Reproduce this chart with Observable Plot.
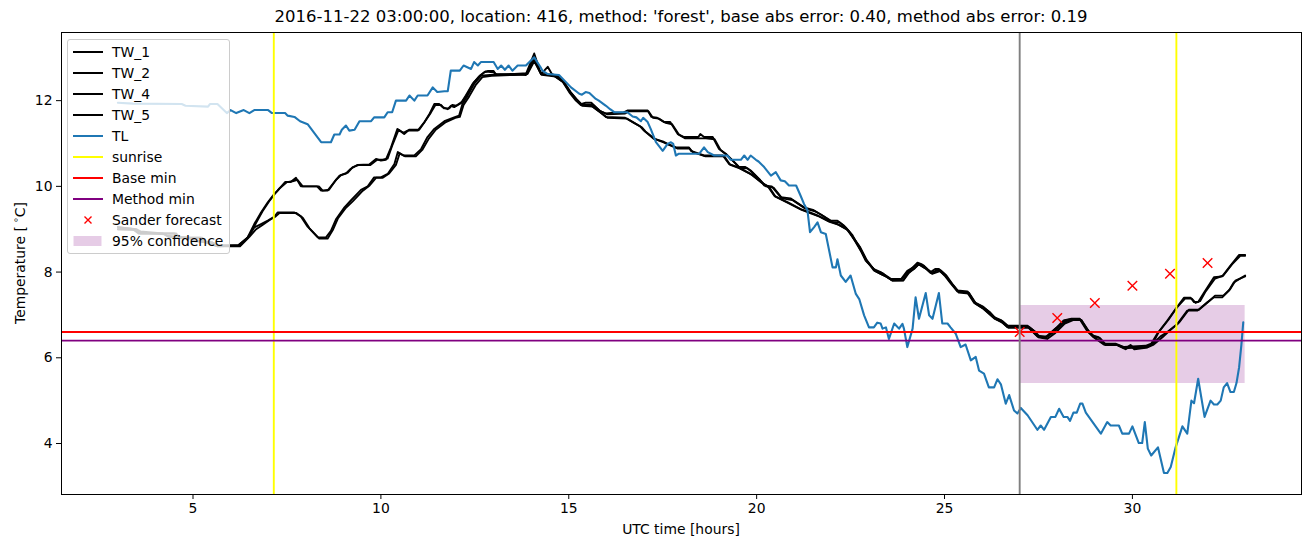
<!DOCTYPE html>
<html><head><meta charset="utf-8">
<script src="https://cdn.jsdelivr.net/npm/d3@7"></script>
<script src="https://cdn.jsdelivr.net/npm/@observablehq/plot@0.6"></script>
<style>
body{margin:0;background:#fff;font-family:"DejaVu Sans",sans-serif;color:#000;}
#wrap{position:relative;width:1310px;height:547px;overflow:hidden;}
#title{position:absolute;left:61px;width:1240px;top:7px;text-align:center;font-size:16.5px;line-height:20px;white-space:nowrap;}
#xlabel{position:absolute;left:61px;width:1240px;top:520px;text-align:center;font-size:13.9px;line-height:18px;}
#ylabel{position:absolute;left:18px;top:263px;transform:translate(-50%,-50%) rotate(-90deg);font-size:13.9px;white-space:nowrap;line-height:18px;}
#ylabel sup{font-size:9.5px;vertical-align:6px;}
#legend{position:absolute;left:67px;top:39px;width:161px;height:213px;border:1px solid #cccccc;border-radius:3px;background:rgba(255,255,255,0.8);}
.row{position:absolute;left:0;height:20px;line-height:20px;font-size:13.9px;white-space:nowrap;}
.row svg{position:absolute;left:4px;top:0;}
.row span{position:absolute;left:44px;top:0;}
</style></head><body>
<div id="wrap">
<div id="chart"></div>
<div id="title">2016-11-22 03:00:00, location: 416, method: 'forest', base abs error: 0.40, method abs error: 0.19</div>
<div id="xlabel">UTC time [hours]</div>
<div id="ylabel">Temperature [<sup>&nbsp;∘</sup>C]</div>
<div id="legend"></div>
</div>
<script>
// ---- data (hour, °C) ----
const TW_1 = [[3.0,9.0],[3.4,9.0],[3.55,8.9],[4.5,8.9],[4.6,8.8],[5.2,8.8],[5.3,8.7],[5.6,8.62],[6.2,8.62],[6.45,8.8],[6.63,9.12],[6.81,9.39],[6.99,9.63],[7.16,9.82],[7.25,9.9],[7.45,10.1],[7.6,10.1],[7.74,10.2],[7.87,10.0],[8.3,10.0],[8.41,9.9],[8.58,9.9],[8.76,10.1],[8.9,10.25],[9.07,10.3],[9.2,10.41],[9.38,10.5],[9.69,10.51],[9.87,10.64],[10.0,10.6],[10.13,10.62],[10.27,10.91],[10.44,11.34],[10.6,11.25],[10.71,11.3],[10.98,11.3],[11.16,11.5],[11.3,11.7],[11.42,11.92],[11.55,11.92],[11.64,11.85],[11.78,11.8],[11.86,11.88],[11.95,11.85],[12.13,11.94],[12.26,12.12],[12.44,12.39],[12.6,12.55],[12.75,12.66],[12.84,12.69],[13.0,12.69],[13.05,12.62],[13.5,12.6],[13.86,12.62],[14.08,13.1],[14.2,12.78],[14.26,12.62],[14.44,12.79],[14.55,12.62],[14.7,12.58],[14.83,12.47],[15.01,12.23],[15.19,12.04],[15.32,11.92],[15.45,11.95],[15.6,11.95],[15.81,11.77],[15.99,11.7],[16.2,11.72],[16.45,11.72],[16.56,11.77],[17.1,11.77],[17.2,11.62],[17.35,11.6],[17.54,11.5],[17.7,11.5],[17.9,11.22],[18.07,11.15],[18.45,11.15],[18.5,11.22],[18.6,11.15],[18.83,11.15],[19.0,10.87],[19.18,10.76],[19.36,10.6],[19.53,10.45],[19.7,10.45],[19.84,10.37],[20.07,10.17],[20.2,10.02],[20.4,10.0],[20.64,9.75],[20.9,9.72],[21.26,9.51],[21.5,9.45],[21.7,9.35],[21.97,9.2],[22.15,9.2],[22.33,9.08],[22.5,8.9],[22.77,8.5],[22.9,8.27],[23.12,8.07],[23.3,8.0],[23.44,7.92],[23.58,7.84],[23.85,7.84],[24.01,8.03],[24.15,8.1],[24.28,8.22],[24.4,8.18],[24.5,8.1],[24.63,8.0],[24.75,8.07],[24.85,8.07],[25.0,7.95],[25.16,7.76],[25.34,7.57],[25.61,7.55],[25.79,7.3],[26.01,7.2],[26.15,7.1],[26.32,6.95],[26.5,6.88],[26.67,6.75],[27.21,6.75],[27.35,6.65],[27.47,6.52],[27.69,6.48],[27.91,6.65],[28.0,6.72],[28.17,6.87],[28.38,6.91],[28.6,6.91],[28.8,6.65],[28.94,6.52],[29.1,6.48],[29.24,6.33],[29.55,6.33],[29.78,6.25],[30.35,6.28],[30.5,6.33],[30.66,6.56],[30.93,6.87],[31.15,7.14],[31.37,7.4],[31.55,7.4],[31.64,7.3],[31.75,7.3],[31.9,7.51],[32.17,7.88],[32.39,7.9],[32.61,8.15],[32.84,8.4],[33.0,8.4]];
const TW_2 = [[3.0,9.05],[3.45,9.0],[3.6,8.9],[4.55,8.9],[4.65,8.8],[5.25,8.8],[5.35,8.7],[5.65,8.6],[6.25,8.62],[6.5,8.85],[6.68,9.15],[6.85,9.42],[7.05,9.68],[7.2,9.85],[7.3,9.95],[7.5,10.1],[7.65,10.12],[7.78,10.15],[7.92,10.0],[8.35,10.0],[8.45,9.9],[8.62,9.92],[8.8,10.15],[8.95,10.27],[9.12,10.32],[9.25,10.45],[9.42,10.5],[9.72,10.5],[9.9,10.62],[10.05,10.62],[10.18,10.65],[10.3,10.95],[10.47,11.32],[10.62,11.22],[10.75,11.32],[11.02,11.32],[11.2,11.55],[11.33,11.72],[11.45,11.9],[11.6,11.9],[11.68,11.82],[11.82,11.82],[11.9,11.9],[12.0,11.88],[12.17,11.98],[12.3,12.15],[12.47,12.42],[12.63,12.58],[12.78,12.68],[13.0,12.66],[13.1,12.6],[13.55,12.62],[13.9,12.64],[14.08,13.05],[14.22,12.7],[14.3,12.62],[14.6,12.6],[14.75,12.55],[14.88,12.42],[15.05,12.2],[15.22,12.02],[15.36,11.9],[15.65,11.9],[15.85,11.75],[16.03,11.68],[16.5,11.7],[16.6,11.75],[17.12,11.75],[17.24,11.6],[17.4,11.58],[17.58,11.48],[17.75,11.45],[17.94,11.2],[18.1,11.12],[18.5,11.12],[18.65,11.12],[18.88,11.1],[19.04,10.85],[19.22,10.72],[19.4,10.57],[19.57,10.42],[19.75,10.42],[19.88,10.33],[20.1,10.14],[20.25,10.0],[20.45,9.97],[20.68,9.72],[20.95,9.68],[21.3,9.48],[21.55,9.42],[21.75,9.32],[22.0,9.17],[22.2,9.16],[22.37,9.04],[22.55,8.86],[22.8,8.46],[22.94,8.24],[23.15,8.04],[23.35,7.97],[23.48,7.88],[23.62,7.8],[23.9,7.81],[24.05,8.0],[24.2,8.08],[24.32,8.19],[24.45,8.15],[24.55,8.06],[24.68,7.97],[24.8,8.05],[24.9,8.04],[25.05,7.92],[25.2,7.73],[25.38,7.54],[25.65,7.52],[25.83,7.27],[26.05,7.17],[26.2,7.07],[26.36,6.92],[26.55,6.85],[26.72,6.72],[27.25,6.72],[27.4,6.62],[27.52,6.5],[27.73,6.5],[27.95,6.68],[28.05,6.75],[28.22,6.88],[28.42,6.9],[28.64,6.88],[28.84,6.62],[28.98,6.5],[29.14,6.46],[29.28,6.32],[29.6,6.3],[29.82,6.22],[29.95,6.3],[30.05,6.22],[30.4,6.25],[30.55,6.35],[30.7,6.6],[30.97,6.9],[31.18,7.17],[31.4,7.38],[31.58,7.38],[31.68,7.28],[31.8,7.32],[31.95,7.55],[32.2,7.85],[32.42,7.92],[32.65,8.18],[32.87,8.38],[33.0,8.38]];
const TW_4 = [[3.0,9.05],[3.5,9.0],[3.6,8.95],[4.2,8.9],[4.3,8.85],[4.9,8.8],[5.0,8.75],[5.5,8.7],[5.6,8.62],[6.2,8.62],[6.45,8.8],[6.63,9.04],[6.81,9.12],[6.99,9.2],[7.16,9.29],[7.25,9.39],[7.7,9.39],[7.87,9.3],[8.05,9.06],[8.32,8.81],[8.54,8.81],[8.67,8.96],[8.81,9.24],[9.03,9.51],[9.2,9.67],[9.47,9.92],[9.65,10.0],[9.82,10.21],[10.0,10.21],[10.18,10.29],[10.36,10.52],[10.45,10.8],[10.6,10.72],[10.89,10.72],[11.07,10.87],[11.24,11.15],[11.42,11.34],[11.69,11.52],[11.95,11.61],[12.08,11.65],[12.17,11.92],[12.31,12.12],[12.48,12.39],[12.66,12.58],[12.9,12.6],[13.46,12.62],[13.86,12.6],[14.08,12.95],[14.26,12.62],[14.44,12.6],[14.6,12.58],[14.83,12.45],[15.01,12.2],[15.19,12.0],[15.32,11.9],[15.6,11.88],[15.81,11.75],[15.99,11.62],[16.5,11.6],[16.7,11.5],[16.9,11.4],[17.0,11.3],[17.26,11.11],[17.5,11.05],[17.63,10.99],[17.85,10.91],[18.2,10.91],[18.25,10.83],[18.6,10.72],[19.1,10.72],[19.27,10.52],[19.5,10.45],[19.84,10.29],[20.11,10.1],[20.3,10.0],[20.47,9.78],[20.82,9.63],[21.17,9.47],[21.4,9.4],[21.62,9.32],[21.9,9.2],[22.15,9.12],[22.4,9.0],[22.73,8.6],[22.9,8.3],[23.12,8.04],[23.3,7.96],[23.44,7.9],[23.58,7.82],[23.85,7.82],[24.01,8.0],[24.28,8.2],[24.5,8.08],[24.63,7.98],[24.85,8.05],[25.0,7.92],[25.16,7.74],[25.34,7.55],[25.61,7.52],[25.79,7.28],[26.01,7.16],[26.32,6.92],[26.5,6.85],[26.67,6.72],[27.21,6.72],[27.47,6.5],[27.69,6.46],[27.91,6.6],[28.17,6.82],[28.38,6.9],[28.6,6.9],[28.8,6.62],[28.94,6.5],[29.24,6.31],[29.55,6.31],[29.78,6.22],[30.35,6.25],[30.5,6.3],[30.75,6.5],[30.93,6.6],[31.2,6.79],[31.46,7.1],[31.73,7.1],[32.0,7.3],[32.17,7.41],[32.39,7.41],[32.57,7.57],[32.7,7.76],[33.0,7.92]];
const TW_5 = [[3.0,9.0],[3.45,8.98],[3.65,8.92],[4.25,8.88],[4.35,8.82],[4.95,8.78],[5.05,8.72],[5.55,8.68],[5.65,8.6],[6.25,8.6],[6.5,8.82],[6.68,9.0],[6.85,9.1],[7.05,9.22],[7.2,9.3],[7.3,9.38],[7.75,9.38],[7.92,9.27],[8.1,9.02],[8.36,8.78],[8.58,8.78],[8.72,8.98],[8.86,9.26],[9.07,9.5],[9.25,9.65],[9.52,9.9],[9.7,10.02],[9.87,10.2],[10.05,10.2],[10.22,10.3],[10.4,10.5],[10.5,10.77],[10.65,10.7],[10.93,10.7],[11.1,10.85],[11.28,11.12],[11.46,11.32],[11.73,11.5],[11.98,11.6],[12.1,11.62],[12.2,11.9],[12.35,12.1],[12.52,12.36],[12.7,12.55],[12.95,12.58],[13.5,12.6],[13.9,12.62],[14.08,12.92],[14.28,12.6],[14.5,12.58],[14.65,12.56],[14.87,12.42],[15.05,12.18],[15.22,12.02],[15.36,11.88],[15.64,11.86],[15.85,11.72],[16.03,11.6],[16.55,11.58],[16.74,11.48],[16.94,11.38],[17.04,11.28],[17.3,11.1],[17.54,11.02],[17.67,10.97],[17.9,10.88],[18.22,10.88],[18.3,10.8],[18.64,10.7],[19.14,10.7],[19.3,10.5],[19.55,10.42],[19.88,10.27],[20.15,10.08],[20.34,9.97],[20.5,9.76],[20.86,9.6],[21.2,9.45],[21.44,9.37],[21.66,9.3],[21.94,9.17],[22.19,9.1],[22.44,8.97],[22.76,8.57],[22.93,8.28],[23.16,8.02],[23.34,7.94],[23.48,7.88],[23.62,7.8],[23.9,7.8],[24.05,7.98],[24.32,8.18],[24.54,8.06],[24.67,7.96],[24.88,8.02],[25.04,7.9],[25.2,7.72],[25.38,7.52],[25.65,7.5],[25.83,7.26],[26.05,7.14],[26.36,6.9],[26.54,6.82],[26.7,6.7],[27.25,6.7],[27.5,6.48],[27.73,6.44],[27.95,6.58],[28.2,6.8],[28.42,6.88],[28.64,6.88],[28.84,6.6],[28.98,6.48],[29.28,6.3],[29.6,6.3],[29.82,6.2],[29.95,6.28],[30.05,6.2],[30.4,6.24],[30.55,6.3],[30.8,6.48],[30.97,6.62],[31.24,6.82],[31.5,7.12],[31.77,7.12],[32.04,7.32],[32.2,7.45],[32.42,7.45],[32.6,7.6],[32.74,7.8],[33.0,7.9]];
const TL = [[3.0,11.95],[3.4,11.93],[4.7,11.92],[4.8,11.88],[5.4,11.86],[5.45,11.92],[5.65,11.92],[5.9,11.71],[6.0,11.78],[6.15,11.71],[6.35,11.78],[6.5,11.71],[6.63,11.78],[7.0,11.78],[7.1,11.71],[7.45,11.71],[7.52,11.65],[7.7,11.62],[7.85,11.52],[8.05,11.45],[8.41,11.03],[8.67,11.03],[8.76,11.21],[8.9,11.21],[8.96,11.32],[9.07,11.42],[9.16,11.3],[9.3,11.32],[9.43,11.52],[9.74,11.52],[9.82,11.61],[10.09,11.61],[10.18,11.73],[10.3,11.73],[10.4,12.0],[10.67,12.0],[10.76,12.12],[10.89,12.0],[10.98,12.12],[11.24,12.12],[11.38,12.31],[11.5,12.2],[11.69,12.22],[11.78,12.22],[11.86,12.7],[12.1,12.7],[12.2,12.82],[12.4,12.74],[12.48,12.9],[12.58,12.82],[12.66,12.9],[13.0,12.9],[13.11,12.74],[13.2,12.82],[13.3,12.72],[13.4,12.82],[13.5,12.7],[13.64,12.82],[13.86,12.82],[14.08,13.01],[14.25,12.78],[14.3,12.7],[14.44,12.62],[14.74,12.6],[15.06,12.31],[15.28,12.16],[15.35,12.14],[15.45,12.2],[15.55,12.18],[15.72,12.04],[15.8,12.0],[15.99,11.88],[16.1,11.8],[16.21,11.73],[16.56,11.73],[16.7,11.63],[16.8,11.61],[16.92,11.52],[16.98,11.6],[17.1,11.5],[17.18,11.34],[17.32,11.03],[17.5,10.83],[17.63,10.99],[17.72,11.03],[17.78,10.99],[17.85,10.72],[17.92,10.76],[18.47,10.76],[18.6,10.91],[18.7,10.8],[18.87,10.72],[19.22,10.72],[19.31,10.62],[19.58,10.62],[19.67,10.72],[19.76,10.62],[19.84,10.72],[19.98,10.62],[20.05,10.58],[20.2,10.45],[20.38,10.25],[20.51,10.33],[20.64,10.14],[20.75,10.12],[20.86,10.02],[21.05,10.02],[21.17,9.78],[21.26,9.59],[21.35,9.45],[21.42,8.93],[21.53,9.05],[21.62,9.16],[21.71,8.93],[21.84,8.89],[22.02,8.11],[22.11,8.11],[22.15,8.3],[22.24,7.92],[22.37,7.77],[22.5,7.92],[22.64,7.49],[22.73,7.37],[22.86,6.99],[22.99,6.71],[23.12,6.71],[23.21,6.82],[23.3,6.8],[23.35,6.68],[23.44,6.71],[23.52,6.44],[23.66,6.8],[23.79,6.68],[23.88,6.79],[23.92,6.68],[24.01,6.25],[24.15,6.68],[24.23,7.41],[24.32,6.91],[24.5,7.51],[24.59,6.99],[24.68,6.91],[24.85,7.51],[24.94,6.8],[25.08,6.8],[25.16,6.71],[25.3,6.56],[25.43,6.25],[25.56,6.31],[25.7,5.94],[25.83,6.02],[25.92,5.7],[26.05,5.63],[26.18,5.31],[26.32,5.31],[26.41,5.5],[26.5,5.38],[26.63,4.93],[26.72,5.13],[26.85,4.77],[26.94,4.7],[27.03,4.83],[27.21,4.66],[27.47,4.32],[27.56,4.42],[27.65,4.32],[27.83,4.62],[27.95,4.62],[28.05,4.81],[28.17,4.62],[28.27,4.62],[28.34,4.53],[28.43,4.72],[28.52,4.72],[28.61,4.93],[28.67,4.93],[28.76,4.72],[29.16,4.23],[29.33,4.5],[29.42,4.42],[29.64,4.42],[29.73,4.23],[29.91,4.23],[30.0,4.4],[30.17,4.01],[30.26,4.01],[30.33,4.5],[30.41,3.88],[30.5,3.72],[30.68,3.91],[30.84,3.31],[30.93,3.31],[31.02,3.45],[31.15,3.91],[31.33,4.4],[31.46,4.23],[31.57,5.0],[31.64,4.94],[31.75,5.51],[31.92,4.62],[32.08,5.0],[32.17,4.91],[32.26,4.91],[32.35,5.0],[32.43,5.31],[32.52,5.41],[32.61,5.2],[32.7,5.2],[32.77,5.41],[32.84,5.78],[32.9,6.3],[32.95,6.83]];
const sunriseHours = [7.15, 31.17];
const forecastStart = [27.0];
const baseMin = [6.6];
const methodMin = [6.4];
const sanderHours = [27, 28, 29, 30, 31, 32];
const sanderValues = [6.6, 6.93, 7.28, 7.68, 7.96, 8.21];
const confidence = [{start: 27.0, end: 33.0, low: 5.4, high: 7.22}];
const xTicks = [5, 10, 15, 20, 25, 30];
const yTicks = [4, 6, 8, 10, 12];
const legendLabels = ["TW_1","TW_2","TW_4","TW_5","TL","sunrise","Base min","Method min","Sander forecast","95% confidence"];

const sander = sanderHours.map((h, i) => ({h, v: sanderValues[i]}));
const lw = 1.9;
const lineOpts = (color, w) => ({x: d => d[0], y: d => d[1], stroke: color, strokeWidth: w || lw, curve: "linear"});

const chart = Plot.plot({
  width: 1310, height: 547,
  marginTop: 32, marginBottom: 53, marginLeft: 61, marginRight: 9,
  style: {fontFamily: "DejaVu Sans, sans-serif", fontSize: "13.9px", color: "black", background: "white"},
  x: {domain: [1.5, 34.5], ticks: xTicks, tickFormat: d => String(d)},
  y: {domain: [2.81, 13.59], ticks: yTicks, tickFormat: d => String(d)},
  marks: [
    Plot.rect(confidence, {x1: "start", x2: "end", y1: "low", y2: "high", fill: "purple", fillOpacity: 0.2}),
    Plot.line(TW_1, lineOpts("black")),
    Plot.line(TW_2, lineOpts("black")),
    Plot.line(TW_4, lineOpts("black")),
    Plot.line(TW_5, lineOpts("black")),
    Plot.line(TL, lineOpts("#1f77b4", 2.1)),
    Plot.ruleX(sunriseHours, {stroke: "yellow", strokeWidth: lw}),
    Plot.ruleY(baseMin, {stroke: "red", strokeWidth: lw}),
    Plot.ruleY(methodMin, {stroke: "purple", strokeWidth: lw}),
    Plot.dot(sander, {x: "h", y: "v", symbol: "times", r: 4.4, stroke: "red", strokeWidth: 1.4}),
    Plot.ruleX(forecastStart, {stroke: "gray", strokeWidth: lw}),
    Plot.axisX({ticks: xTicks, tickSize: 5, tickPadding: 4, label: null, fontSize: 13.9}),
    Plot.axisY({ticks: yTicks, tickSize: 5, tickPadding: 4, label: null, fontSize: 13.9}),
    Plot.frame({stroke: "black", strokeWidth: 1})
  ]
});
document.getElementById("chart").appendChild(chart);

// legend (matplotlib style, semi-transparent box over the axes)
const legend = document.getElementById("legend");
const handleColors = ["black","black","black","black","#1f77b4","yellow","red","purple",null,null];
legendLabels.forEach((lab, i) => {
  const row = document.createElement("div");
  row.className = "row";
  row.style.top = (1.7 + 21 * i) + "px";
  let svg;
  if (i < 8) {
    svg = `<svg width="32" height="20"><line x1="1" x2="31" y1="10" y2="10" stroke="${handleColors[i]}" stroke-width="2"/></svg>`;
  } else if (i === 8) {
    svg = `<svg width="32" height="20"><path d="M12.5,6.5L19.5,13.5M12.5,13.5L19.5,6.5" stroke="red" stroke-width="1.4" fill="none"/></svg>`;
  } else {
    svg = `<svg width="32" height="20"><rect x="1.5" y="5" width="28" height="10" fill="purple" fill-opacity="0.2"/></svg>`;
  }
  row.innerHTML = svg + `<span>${lab}</span>`;
  legend.appendChild(row);
});
</script>
</body></html>
